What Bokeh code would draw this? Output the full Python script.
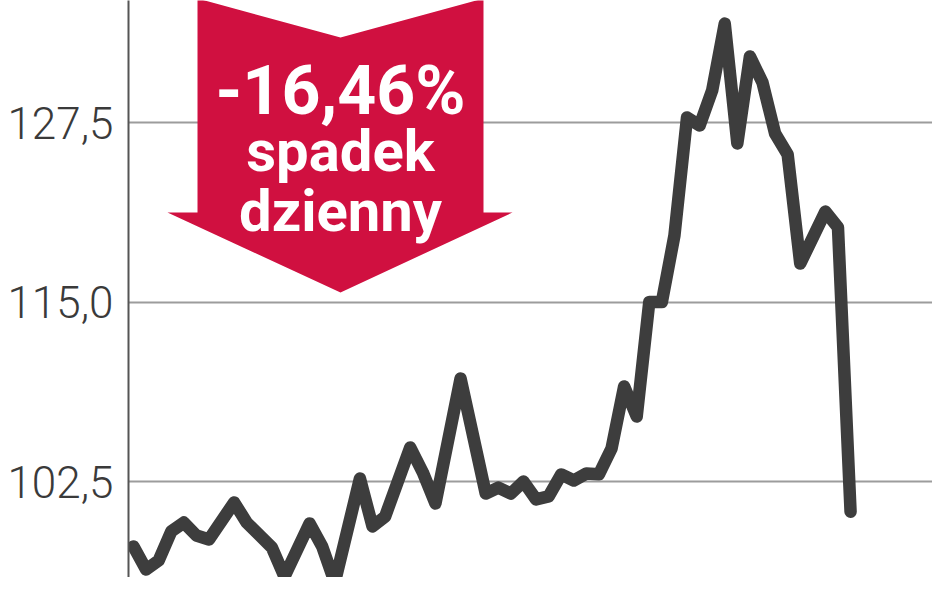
from bokeh.plotting import figure
from bokeh.models import Range1d, FixedTicker, CustomJSTickFormatter, PolyAnnotation, Label
from bokeh.embed import file_html
from bokeh.resources import INLINE

# trading-day index and closing price
day = [0, 1, 2, 3, 4, 5, 6, 8, 9, 11, 12, 14, 15, 16, 18, 19, 20, 22, 23, 24, 26,
       28, 29, 30, 31, 32, 33, 34, 35, 36, 37, 38, 39, 40, 41, 42, 43, 44, 45, 46,
       47, 48, 49, 50, 51, 52, 53, 55, 56, 57]
price = [97.97, 96.37, 97.0, 99.02, 99.64, 98.74, 98.46, 101.04, 99.64, 97.9,
         95.88, 99.58, 97.97, 95.47, 102.71, 99.37, 100.06, 104.87, 103.13, 100.97,
         109.67, 101.66, 102.08, 101.66, 102.5, 101.25, 101.46, 102.99, 102.57, 103.06,
         103.0, 104.8, 109.12, 107.03, 115.0, 115.0, 119.63, 127.85, 127.29, 129.73,
         134.39, 126.04, 132.1, 130.29, 126.73, 125.27, 117.68, 121.3, 120.19, 100.4]
y_ticks = [102.5, 115.0, 127.5]
badge_lines = ["-16,46%", "spadek", "dzienny"]

# layout helpers (figure pixel -> data)
X0, DX = 133.0, 12.58      # pixel x of day 0, px per day
Y_REF, V_REF, DY = 122.0, 127.5, 14.36  # pixel y of 127,5 gridline, px per unit
LEFT = 128


def px2x(X):
    return (X - X0) / DX


def py2y(Y):
    return V_REF - (Y - Y_REF) / DY


W, H = 932, 577
p = figure(width=W, height=H, output_backend="svg", toolbar_location=None,
           x_range=Range1d(px2x(LEFT), px2x(W)),
           y_range=Range1d(py2y(H), py2y(0)),
           x_axis_type=None, min_border_left=LEFT, min_border_right=0,
           min_border_top=0, min_border_bottom=0)
p.outline_line_color = None
p.background_fill_color = "white"
p.border_fill_color = "white"
p.xgrid.visible = False

ya = p.yaxis[0]
ya.ticker = FixedTicker(ticks=y_ticks)
ya.formatter = CustomJSTickFormatter(code="return tick.toFixed(1).replace('.', ',');")
ya.major_tick_in = 0
ya.major_tick_out = 0
ya.minor_tick_in = 0
ya.minor_tick_out = 0
ya.axis_line_color = "#555555"
ya.axis_line_width = 2
ya.major_label_standoff = 15
ya.major_label_text_font = "Roboto Light"
ya.major_label_text_font_size = "44px"
ya.major_label_text_color = "#3a3a3a"

p.ygrid.ticker = FixedTicker(ticks=y_ticks)
p.ygrid.grid_line_color = "#9c9c9c"
p.ygrid.grid_line_width = 2

p.line(day, price, line_color="#3d3d3d", line_width=12.5,
       line_join="round", line_cap="round")

# red down arrow badge
arrow_px = [(197, -2), (340, 37), (483, -2), (483, 212), (512, 212), (340, 292),
            (167, 212), (197, 212)]
p.add_layout(PolyAnnotation(xs=[px2x(a) for a, b in arrow_px],
                            ys=[py2y(b) for a, b in arrow_px],
                            fill_color="#d01040", fill_alpha=1.0,
                            line_color=None))

for txt, base, size in zip(badge_lines, [90, 150, 210], ["68px", "58px", "58px"]):
    p.add_layout(Label(x=px2x(340), y=py2y(base), text=txt, text_align="center",
                       text_baseline="alphabetic", text_color="white",
                       text_font="Roboto", text_font_style="bold",
                       text_font_size=size))

open("out.html", "w").write(file_html(p, INLINE))
